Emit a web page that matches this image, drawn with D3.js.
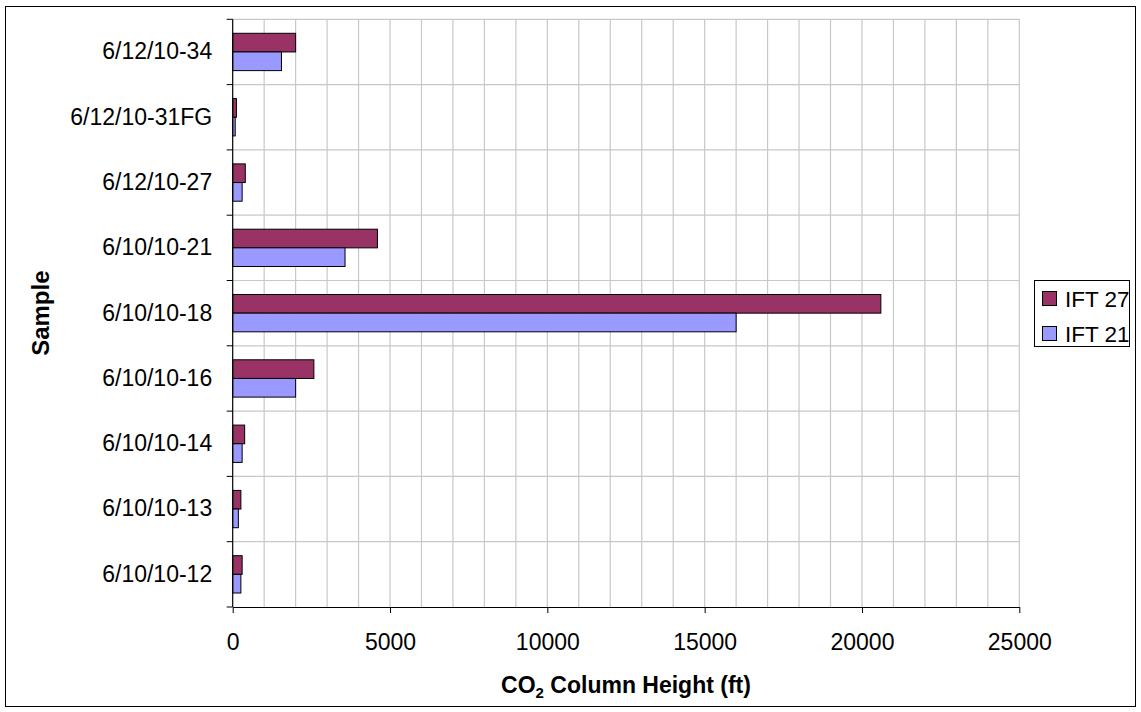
<!DOCTYPE html>
<html>
<head>
<meta charset="utf-8">
<script src="https://cdn.jsdelivr.net/npm/d3@7"></script>
<style>
  html, body { margin: 0; padding: 0; background: #fff; }
  svg { display: block; font-family: "Liberation Sans", Arial, sans-serif; }
</style>
</head>
<body>
<svg id="chart" width="1141" height="712"></svg>
<script>
// Samples, listed bottom to top as on the category axis
const samples = ["6/10/10-12", "6/10/10-13", "6/10/10-14", "6/10/10-16", "6/10/10-18",
                 "6/10/10-21", "6/12/10-27", "6/12/10-31FG", "6/12/10-34"];
const ift27 = [300, 260, 380, 2580, 20600, 4600, 400, 120, 2000];
const ift21 = [260, 180, 300, 2000, 16000, 3570, 300, 80, 1550];
const seriesNames = ["IFT 27", "IFT 21"];
const seriesColors = ["#993366", "#9999FF"];
const xTicks = [0, 5000, 10000, 15000, 20000, 25000];
const xMax = 25000;
const gridStep = 1000;

const svg = d3.select("#chart");
const W = 1141, H = 712;
const plot = { left: 232.7, right: 1019.3, top: 19.3, bottom: 607 };
const FONT = "Liberation Sans, Arial, sans-serif";

// outer chart border
svg.append("rect")
  .attr("x", 5.5).attr("y", 6.5).attr("width", W - 11).attr("height", H - 12)
  .attr("fill", "#fff").attr("stroke", "#000").attr("stroke-width", 1);

const x = d3.scaleLinear().domain([0, xMax]).range([plot.left, plot.right]);
// top of the chart is the last sample
const y = d3.scaleBand().domain(samples.slice().reverse()).range([plot.top, plot.bottom]).paddingInner(0).paddingOuter(0);
const ySub = d3.scaleBand().domain(seriesNames).range([0, y.bandwidth()]).paddingInner(0).paddingOuter(0.75);

// vertical gridlines every 1000 ft
const gridVals = d3.range(gridStep, xMax + 1, gridStep);
svg.append("g").selectAll("line").data(gridVals).join("line")
  .attr("x1", d => x(d)).attr("x2", d => x(d))
  .attr("y1", plot.top).attr("y2", plot.bottom)
  .attr("stroke", "#c8c8c8").attr("stroke-width", 1.2);

// horizontal gridlines at the category boundaries
const bounds = samples.slice().reverse().map(s => y(s));
svg.append("g").selectAll("line").data(bounds).join("line")
  .attr("x1", plot.left).attr("x2", plot.right)
  .attr("y1", d => d).attr("y2", d => d)
  .attr("stroke", "#c8c8c8").attr("stroke-width", 1.2);

// bars
const rows = samples.map((s, i) => ({ sample: s, vals: [ift27[i], ift21[i]] }));
const groups = svg.append("g").selectAll("g").data(rows).join("g")
  .attr("transform", d => `translate(0,${y(d.sample)})`);
groups.selectAll("rect").data(d => d.vals.map((v, k) => ({ v, k }))).join("rect")
  .attr("x", x(0))
  .attr("y", d => ySub(seriesNames[d.k]))
  .attr("width", d => x(d.v) - x(0))
  .attr("height", ySub.bandwidth())
  .attr("fill", d => seriesColors[d.k])
  .attr("stroke", "#000").attr("stroke-width", 1);

// category axis
const yAxis = d3.axisLeft(y).tickSize(0).tickPadding(20.5);
const yg = svg.append("g").attr("transform", `translate(${plot.left},0)`).call(yAxis);
yg.select(".domain").remove();
yg.selectAll("text").attr("font-size", 23).attr("fill", "#000").attr("font-family", FONT);
// tick marks between categories
svg.append("g").selectAll("line").data(bounds.concat([plot.bottom])).join("line")
  .attr("x1", plot.left - 6).attr("x2", plot.left)
  .attr("y1", d => d).attr("y2", d => d)
  .attr("stroke", "#000").attr("stroke-width", 1);
svg.append("line")
  .attr("x1", plot.left).attr("x2", plot.left)
  .attr("y1", plot.top).attr("y2", plot.bottom)
  .attr("stroke", "#000").attr("stroke-width", 1.2);

// value axis
const xAxis = d3.axisBottom(x).tickValues(xTicks).tickFormat(d3.format("d")).tickSize(6).tickSizeOuter(0).tickPadding(21);
const xg = svg.append("g").attr("transform", `translate(0,${plot.bottom})`).call(xAxis);
xg.select(".domain").attr("stroke", "#000").attr("stroke-width", 1.2);
xg.selectAll(".tick line").attr("stroke", "#000");
xg.selectAll("text").attr("font-size", 23).attr("fill", "#000").attr("font-family", FONT);

// axis titles
const xt = svg.append("text")
  .attr("x", (plot.left + plot.right) / 2).attr("y", 693)
  .attr("text-anchor", "middle").attr("font-size", 23).attr("font-weight", "bold");
xt.append("tspan").text("CO");
xt.append("tspan").text("2").attr("font-size", 15).attr("dy", 5);
xt.append("tspan").text(" Column Height (ft)").attr("dy", -5);

svg.append("text")
  .attr("transform", `translate(49,${(plot.top + plot.bottom) / 2}) rotate(-90)`)
  .attr("text-anchor", "middle").attr("font-size", 24).attr("font-weight", "bold")
  .text("Sample");

// legend
const lg = svg.append("g");
lg.append("rect").attr("x", 1034.5).attr("y", 280.5).attr("width", 95).attr("height", 66)
  .attr("fill", "#fff").attr("stroke", "#000").attr("stroke-width", 1);
seriesNames.forEach((name, i) => {
  const cy = 298.5 + i * 35;
  lg.append("rect").attr("x", 1042.5).attr("y", cy - 7).attr("width", 14).attr("height", 14)
    .attr("fill", seriesColors[i]).attr("stroke", "#000").attr("stroke-width", 1);
  lg.append("text").attr("x", 1065).attr("y", cy).attr("dy", "0.36em")
    .attr("font-size", 22.5).text(name);
});
</script>
</body>
</html>
